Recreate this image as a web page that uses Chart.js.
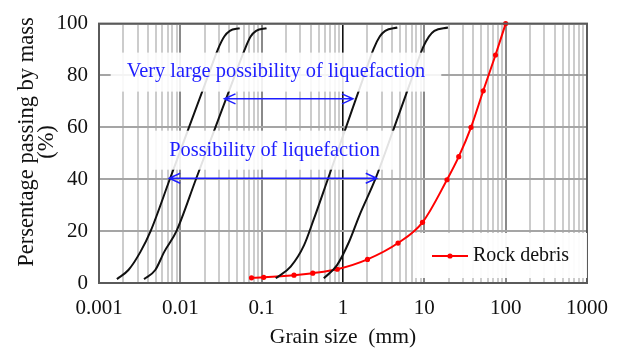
<!DOCTYPE html>
<html>
<head>
<meta charset="utf-8">
<script src="https://cdn.jsdelivr.net/npm/chart.js@4.4.1/dist/chart.umd.min.js"></script>
<style>
  html, body { margin: 0; padding: 0; background: #ffffff; }
  #wrap { width: 621px; height: 349px; }
</style>
</head>
<body>
<div id="wrap"><canvas id="c" width="621" height="349"></canvas></div>
<script>
// Grading boundaries for liquefaction susceptibility (grain size in mm, % passing)
const possFineSize   = [0.00166, 0.0023, 0.00323, 0.00431, 0.00742, 0.01277, 0.0220, 0.0289, 0.0347, 0.0406, 0.0537];
const possFinePass   = [1.5, 5, 12, 20, 40, 60, 80, 90, 95, 97.2, 98.2];

const veryFineSize   = [0.00358, 0.00492, 0.00634, 0.00896, 0.01555, 0.02698, 0.04681, 0.06183, 0.07318, 0.08544, 0.1148];
const veryFinePass   = [1.5, 5, 12, 20, 40, 60, 80, 90, 95, 97.2, 98.2];

const veryCoarseSize = [0.149, 0.2272, 0.3312, 0.4387, 0.6505, 1.088, 1.820, 2.371, 2.830, 3.303, 4.655];
const veryCoarsePass = [1.8, 6.3, 14.5, 24.7, 40, 60, 80, 90.2, 95, 97.2, 98.5];

const possCoarseSize = [0.5811, 0.8448, 1.184, 1.590, 2.494, 4.266, 7.218, 9.667, 11.38, 13.29, 19.53];
const possCoarsePass = [1.8, 6.9, 15.8, 26, 40, 60, 80, 90.9, 95, 97.2, 98.5];

// Sieve analysis of the rock debris
const debrisSize = [0.075, 0.106, 0.25, 0.425, 0.85, 2, 4.75, 9.5, 19, 26.5, 37.5, 53, 75, 100];
const debrisPass = [2.0, 2.2, 3.0, 3.8, 5.3, 9.1, 15.4, 23.4, 39.8, 48.7, 60, 74.1, 87.9, 100];
const debrisName = 'Rock debris';

// Axis labels
const xTickLabels = ['0.001', '0.01', '0.1', '1', '10', '100', '1000'];
const xTitle = 'Grain size  (mm)';
const yTitle = ['Persentage passing by mass', '(%)'];

// Range notes and their double-headed arrows (size in mm, passing in %)
const noteTexts = ['Very large possibility of liquefaction', 'Possibility of liquefaction'];
const noteSize  = [0.15, 0.144];
const notePass  = [81.3, 51.2];
const arrowFrom = [0.0349, 0.0073];
const arrowTo   = [1.325, 2.6];
const arrowPass = [71, 40.4];

const FONT = "'Liberation Serif', 'Times New Roman', serif";
const NOTE_BLUE = '#1e1eff';
const TEXT = '#111111';

Chart.defaults.font.family = FONT;

const pts = (xs, ys) => xs.map((v, i) => ({ x: v, y: ys[i] }));
const decadeIndex = (v) => {
  const lg = Math.log10(v);
  return Math.abs(lg - Math.round(lg)) < 1e-9 ? Math.round(lg) + 3 : -1;
};

// vertical grid positions: 1..9 x each decade from 0.001 to 1000
const gridSizes = [];
for (let e = -3; e <= 2; e++) {
  for (let m = 1; m <= 9; m++) gridSizes.push(Number((m * Math.pow(10, e)).toPrecision(6)));
}
gridSizes.push(1000);

const boundaryStyle = {
  showLine: true,
  borderColor: '#111111',
  borderWidth: 2,
  pointRadius: 0,
  cubicInterpolationMode: 'monotone'
};

const overlayPlugin = {
  id: 'overlay',
  afterDatasetsDraw(chart) {
    const { ctx, chartArea: a, scales: { x, y } } = chart;
    ctx.save();

    // plot frame
    ctx.strokeStyle = '#5a5a5a';
    ctx.lineWidth = 2;
    ctx.strokeRect(a.left, a.top, a.right - a.left, a.bottom - a.top);

    // notes on translucent white panels
    ctx.font = '20.4px ' + FONT;
    ctx.textAlign = 'center';
    ctx.textBaseline = 'middle';
    noteTexts.forEach((t, i) => {
      const cx = x.getPixelForValue(noteSize[i]);
      const cy = y.getPixelForValue(notePass[i]);
      const w = ctx.measureText(t).width + 32;
      const h = 39;
      ctx.fillStyle = 'rgba(255,255,255,0.88)';
      ctx.fillRect(cx - w / 2, cy - h / 2, w, h);
      ctx.fillStyle = NOTE_BLUE;
      ctx.fillText(t, cx, cy);
    });

    // double-headed arrows
    ctx.strokeStyle = NOTE_BLUE;
    ctx.lineWidth = 1.5;
    arrowFrom.forEach((f, i) => {
      const x1 = x.getPixelForValue(f);
      const x2 = x.getPixelForValue(arrowTo[i]);
      const yy = y.getPixelForValue(arrowPass[i]);
      ctx.beginPath();
      ctx.moveTo(x1, yy); ctx.lineTo(x2, yy);
      ctx.moveTo(x1 + 11, yy - 5); ctx.lineTo(x1, yy); ctx.lineTo(x1 + 11, yy + 5);
      ctx.moveTo(x2 - 11, yy - 5); ctx.lineTo(x2, yy); ctx.lineTo(x2 - 11, yy + 5);
      ctx.stroke();
    });

    // legend panel in the lower right corner
    const lw = 174, lh = 45;
    const lx = a.right - lw, ly = a.bottom - 5 - lh;
    ctx.fillStyle = 'rgba(255,255,255,0.94)';
    ctx.fillRect(lx, ly, lw, lh);
    const my = ly + lh / 2 + 0.5;
    ctx.strokeStyle = '#ff0000';
    ctx.lineWidth = 2;
    ctx.beginPath(); ctx.moveTo(lx + 19, my); ctx.lineTo(lx + 55, my); ctx.stroke();
    ctx.fillStyle = '#ff0000';
    ctx.beginPath(); ctx.arc(lx + 37, my, 2.6, 0, Math.PI * 2); ctx.fill();
    ctx.fillStyle = TEXT;
    ctx.textAlign = 'left';
    ctx.font = '20px ' + FONT;
    ctx.fillText(debrisName, lx + 60, my);

    ctx.restore();
  },
  afterDraw(chart) {
    // vertical axis title, two lines, rotated
    const { ctx } = chart;
    ctx.save();
    ctx.translate(27, 142);
    ctx.rotate(-Math.PI / 2);
    ctx.font = '22.5px ' + FONT;
    ctx.fillStyle = TEXT;
    ctx.textAlign = 'center';
    ctx.textBaseline = 'middle';
    yTitle.forEach((line, i) => ctx.fillText(line, 0, i * 20));
    ctx.restore();
  }
};

new Chart(document.getElementById('c'), {
  type: 'scatter',
  data: {
    datasets: [
      Object.assign({ label: 'Possibility (fine)', data: pts(possFineSize, possFinePass) }, boundaryStyle),
      Object.assign({ label: 'Very large possibility (fine)', data: pts(veryFineSize, veryFinePass) }, boundaryStyle),
      Object.assign({ label: 'Very large possibility (coarse)', data: pts(veryCoarseSize, veryCoarsePass) }, boundaryStyle),
      Object.assign({ label: 'Possibility (coarse)', data: pts(possCoarseSize, possCoarsePass) }, boundaryStyle),
      {
        label: debrisName,
        data: pts(debrisSize, debrisPass),
        showLine: true,
        borderColor: '#ff0000',
        borderWidth: 2,
        pointRadius: 2.6,
        pointBackgroundColor: '#ff0000',
        pointBorderWidth: 0,
        cubicInterpolationMode: 'monotone',
        clip: false
      }
    ]
  },
  options: {
    responsive: false,
    animation: false,
    devicePixelRatio: 1,
    layout: { padding: { left: 0, right: 29, top: 20, bottom: 0 } },
    plugins: {
      legend: { display: false },
      tooltip: { enabled: false }
    },
    scales: {
      x: {
        type: 'logarithmic',
        position: 'bottom',
        min: 0.001,
        max: 1000,
        afterBuildTicks: (s) => { s.ticks = gridSizes.map(v => ({ value: v })); },
        afterFit: (s) => { s.height = 66; },
        ticks: {
          autoSkip: false,
          maxRotation: 0,
          minRotation: 0,
          padding: 13,
          color: TEXT,
          font: { size: 21 },
          callback: (v) => { const k = decadeIndex(v); return k >= 0 ? xTickLabels[k] : ''; }
        },
        grid: {
          drawTicks: false,
          color: (c) => {
            const v = c.tick ? c.tick.value : 0;
            if (Math.abs(v - 1) < 1e-9) return '#111111';
            return decadeIndex(v) >= 0 ? '#8a8a8a' : '#cccccc';
          },
          lineWidth: (c) => {
            const v = c.tick ? c.tick.value : 0;
            return Math.abs(v - 1) < 1e-9 ? 1.6 : 2;
          }
        },
        border: { display: true, color: '#5a5a5a', width: 2 },
        title: {
          display: true,
          text: xTitle,
          color: TEXT,
          font: { size: 21.5, lineHeight: 1.1 },
          padding: { top: 0, bottom: 0 }
        }
      },
      y: {
        min: 0,
        max: 100,
        afterFit: (s) => { s.width = 99; },
        ticks: {
          stepSize: 20,
          padding: 11,
          color: TEXT,
          font: { size: 21 }
        },
        grid: { drawTicks: false, color: '#a5a5a5', lineWidth: 2 },
        border: { display: true, color: '#5a5a5a', width: 2 },
        title: { display: false }
      }
    }
  },
  plugins: [overlayPlugin]
});
</script>
</body>
</html>
